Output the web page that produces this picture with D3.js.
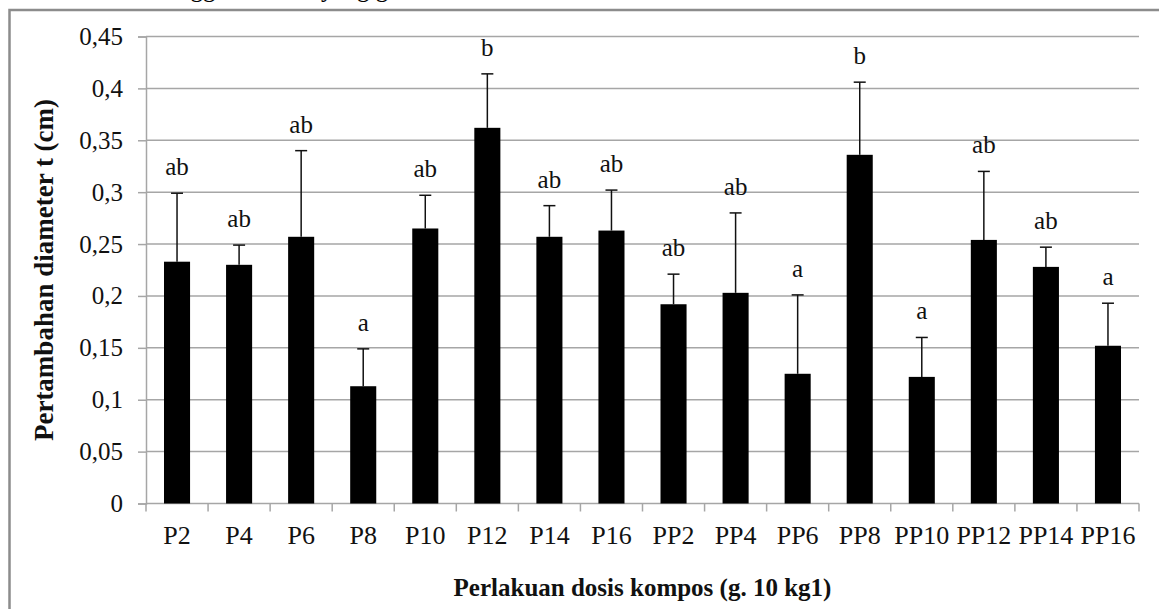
<!DOCTYPE html>
<html>
<head>
<meta charset="utf-8">
<script src="https://cdn.jsdelivr.net/npm/d3@7/dist/d3.min.js"></script>
<style>
  html, body { margin: 0; padding: 0; background: #fff; }
  svg { display: block; font-family: "Liberation Serif", "Times New Roman", serif; }
</style>
</head>
<body>
<svg id="chart" width="1159" height="609"></svg>
<script>
// ---- data ----
const categories = ["P2","P4","P6","P8","P10","P12","P14","P16","PP2","PP4","PP6","PP8","PP10","PP12","PP14","PP16"];
const means      = [0.233,0.230,0.257,0.113,0.265,0.362,0.257,0.263,0.192,0.203,0.125,0.336,0.122,0.254,0.228,0.152];
const upperErr   = [0.299,0.249,0.340,0.149,0.297,0.414,0.287,0.302,0.221,0.280,0.201,0.406,0.160,0.320,0.247,0.193];
const letters    = ["ab","ab","ab","a","ab","b","ab","ab","ab","ab","a","b","a","ab","ab","a"];
const yTicks     = [0,0.05,0.1,0.15,0.2,0.25,0.3,0.35,0.4,0.45];
const yTickLabels = ["0","0,05","0,1","0,15","0,2","0,25","0,3","0,35","0,4","0,45"];
const yTitle = "Pertambahan diameter t (cm)";
const xTitle = "Perlakuan dosis kompos (g. 10 kg1)";

// ---- layout ----
const svg = d3.select("#chart");
const plot = {left: 146, right: 1139, top: 36.5, bottom: 503.5};
const gridColor = "#a6a6a6";

// outer frame (partially visible)
svg.append("rect")
  .attr("x", 9.5).attr("y", 10).attr("width", 1300).attr("height", 800)
  .attr("fill", "none").attr("stroke", "#8c8c8c").attr("stroke-width", 2.5);

// cut-off document text above the frame
svg.append("text").attr("x", 178).attr("y", -3).attr("font-size", 25).text("nggal");
svg.append("text").attr("x", 321).attr("y", -3).attr("font-size", 25).text("yang g");

const x = d3.scaleBand().domain(categories).range([plot.left, plot.right]).paddingInner(0).paddingOuter(0);
const y = d3.scaleLinear().domain([0, 0.45]).range([plot.bottom, plot.top]);

// gridlines + y ticks
const yAxis = d3.axisLeft(y).tickValues(yTicks)
  .tickFormat((d, i) => yTickLabels[i])
  .tickSize(8).tickPadding(15);
const gy = svg.append("g").attr("transform", `translate(${plot.left},0)`).call(yAxis);
gy.select(".domain").attr("stroke", gridColor).attr("stroke-width", 1.5);
gy.selectAll(".tick line").attr("stroke", gridColor).attr("stroke-width", 1.5);
gy.selectAll(".tick text").attr("font-size", 25).attr("fill", "#111")
  .attr("font-family", "Liberation Serif, Times New Roman, serif");

svg.append("g").selectAll("line").data(yTicks.slice(1)).join("line")
  .attr("x1", plot.left).attr("x2", plot.right)
  .attr("y1", d => y(d)).attr("y2", d => y(d))
  .attr("stroke", gridColor).attr("stroke-width", 1.5);

// x axis
const gx = svg.append("g").attr("transform", `translate(0,${plot.bottom})`);
gx.append("line").attr("x1", plot.left).attr("x2", plot.right)
  .attr("stroke", gridColor).attr("stroke-width", 1.5);
const boundaries = categories.map(c => x(c)).concat([x(categories[categories.length-1]) + x.bandwidth()]);
gx.selectAll("line.tk").data(boundaries).join("line").attr("class","tk")
  .attr("x1", d => d).attr("x2", d => d).attr("y1", 0).attr("y2", 8)
  .attr("stroke", gridColor).attr("stroke-width", 1.5);
gx.selectAll("text").data(categories).join("text")
  .attr("x", d => x(d) + x.bandwidth()/2).attr("y", 40)
  .attr("text-anchor", "middle").attr("font-size", 26).attr("fill", "#111")
  .text(d => d);

// bars
const barW = x.bandwidth() * 0.42;
const data = categories.map((c, i) => ({c, m: means[i], e: upperErr[i], l: letters[i]}));

// error bars
const eb = svg.append("g");
eb.selectAll("line.v").data(data).join("line").attr("class","v")
  .attr("x1", d => x(d.c) + x.bandwidth()/2).attr("x2", d => x(d.c) + x.bandwidth()/2)
  .attr("y1", d => y(d.m)).attr("y2", d => y(d.e))
  .attr("stroke", "#111").attr("stroke-width", 1.5);
eb.selectAll("line.cap").data(data).join("line").attr("class","cap")
  .attr("x1", d => x(d.c) + x.bandwidth()/2 - 6).attr("x2", d => x(d.c) + x.bandwidth()/2 + 6)
  .attr("y1", d => y(d.e)).attr("y2", d => y(d.e))
  .attr("stroke", "#111").attr("stroke-width", 1.5);

svg.append("g").selectAll("rect").data(data).join("rect")
  .attr("x", d => x(d.c) + (x.bandwidth() - barW)/2)
  .attr("y", d => y(d.m))
  .attr("width", barW)
  .attr("height", d => y(0) - y(d.m))
  .attr("fill", "#000");

// letters
svg.append("g").selectAll("text").data(data).join("text")
  .attr("x", d => x(d.c) + x.bandwidth()/2)
  .attr("y", d => y(d.e) - 18)
  .attr("text-anchor", "middle").attr("font-size", 25).attr("fill", "#111")
  .text(d => d.l);

// axis titles
svg.append("text")
  .attr("transform", `translate(53,${(plot.top + plot.bottom)/2}) rotate(-90)`)
  .attr("text-anchor", "middle").attr("font-size", 27).attr("font-weight", "bold").attr("fill", "#111")
  .text(yTitle);
svg.append("text")
  .attr("x", (plot.left + plot.right)/2).attr("y", 596)
  .attr("text-anchor", "middle").attr("font-size", 25).attr("font-weight", "bold").attr("fill", "#111")
  .text(xTitle);
</script>
</body>
</html>
